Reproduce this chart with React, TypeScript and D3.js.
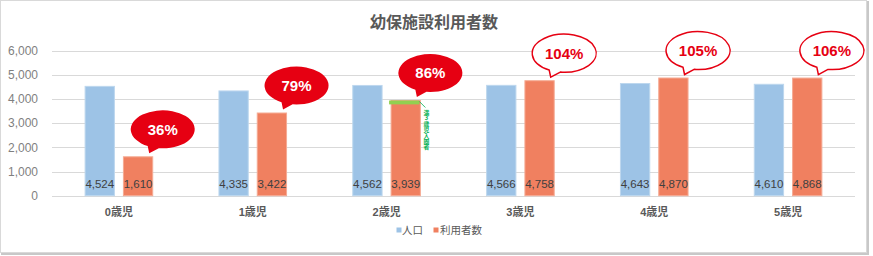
import React from "react";
import * as d3 from "d3";

const categories = ["0歳児", "1歳児", "2歳児", "3歳児", "4歳児", "5歳児"];
const population = [4524, 4335, 4562, 4566, 4643, 4610];
const users = [1610, 3422, 3939, 4758, 4870, 4868];
const seriesNames = ["人口", "利用者数"];
const yTicks = [0, 1000, 2000, 3000, 4000, 5000, 6000];
const title = "幼保施設利用者数";
const age3Entrants = 160; // 満3歳児入園者 (part of 2歳児 users)
const age3Label = "満3歳児入園者";
const age3Index = 2;

const W = 873;
const H = 256;
const LATIN = "'Liberation Sans', 'Noto Sans CJK JP', sans-serif";
const CJK = "'Noto Sans CJK JP', 'Liberation Sans', sans-serif";
const BLUE = "#9DC3E6";
const BLUE_STROKE = "#BDD7EE";
const ORANGE = "#F08060";
const ORANGE_STROKE = "#F5AB94";
const RED = "#E60012";

export default function App() {
  const x0 = d3.scaleBand<string>().domain(categories).range([52, 855]).paddingInner(0).paddingOuter(0);
  const bw = x0.bandwidth();
  const barW = 29.3;
  const gap = 9;
  const L = 2 * barW + gap;
  const x1 = d3
    .scaleBand<string>()
    .domain(seriesNames)
    .range([bw / 2 - L / 2, bw / 2 + L / 2])
    .paddingInner(gap / (barW + gap))
    .paddingOuter(0);
  const y = d3.scaleLinear().domain([0, 6000]).range([195.7, 50.7]);
  const fmt = d3.format(",");

  const rx = 32;
  const ry = 19;
  const bubblePath = (cx: number, cy: number, tx: number, ty: number) => {
    const a1 = (118 * Math.PI) / 180;
    const a2 = (97 * Math.PI) / 180;
    const p1 = [cx + rx * Math.cos(a1), cy + ry * Math.sin(a1)];
    const p2 = [cx + rx * Math.cos(a2), cy + ry * Math.sin(a2)];
    return `M${p2[0]},${p2[1]} L${tx},${ty} L${p1[0]},${p1[1]} A${rx},${ry} 0 1 1 ${p2[0]},${p2[1]} Z`;
  };

  return (
    <svg
      width={W}
      height={H}
      style={{ position: "absolute", left: 0, top: 0, background: "#fff" }}
    >
      <rect x={0.5} y={0.5} width={866} height={252} fill="#fff" stroke="#D9D9D9" />
      <rect x={867} y={1} width={2} height={254} fill="#C8C8C8" />
      <rect x={1} y={253} width={868} height={2} fill="#C8C8C8" />

      <text
        x={434}
        y={27.5}
        textAnchor="middle"
        fontFamily={CJK}
        fontWeight={700}
        fontSize={16}
        fill="#595959"
      >
        {title}
      </text>

      {yTicks.map((t) => (
        <g key={t}>
          <line x1={52} x2={855} y1={Math.round(y(t)) + 0.5} y2={Math.round(y(t)) + 0.5} stroke="#D9D9D9" />
          <text
            x={38}
            y={y(t)}
            dy="0.35em"
            textAnchor="end"
            fontFamily={LATIN}
            fontSize={12}
            fill="#7F7F7F"
          >
            {fmt(t)}
          </text>
        </g>
      ))}

      {categories.map((c, i) => {
        const base = x0(c)!;
        const vals = [population[i], users[i]];
        return (
          <g key={c}>
            {vals.map((v, j) => {
              const bx = base + x1(seriesNames[j])!;
              return (
                <g key={j}>
                  <rect
                    x={bx}
                    y={y(v)}
                    width={x1.bandwidth()}
                    height={y(0) - y(v)}
                    fill={j === 0 ? BLUE : ORANGE}
                    stroke={j === 0 ? BLUE_STROKE : ORANGE_STROKE}
                    strokeWidth={1}
                  />
                  <text
                    x={bx + x1.bandwidth() / 2}
                    y={187.5}
                    textAnchor="middle"
                    fontFamily={LATIN}
                    fontSize={11.5}
                    fill="#404040"
                  >
                    {fmt(v)}
                  </text>
                </g>
              );
            })}
            <text
              x={base + bw / 2}
              y={216}
              textAnchor="middle"
              fontFamily={LATIN}
              fontWeight={700}
              fontSize={11}
              fill="#595959"
            >
              {c}
            </text>
          </g>
        );
      })}

      {(() => {
        const c = categories[age3Index];
        const bx = x0(c)! + x1(seriesNames[1])!;
        const top = y(users[age3Index]);
        const bot = y(users[age3Index] - age3Entrants);
        const right = bx + x1.bandwidth();
        return (
          <g>
            <rect x={bx - 2} y={top} width={x1.bandwidth() + 1} height={bot - top} fill="#92D050" />
            <line x1={right - 1} y1={top + 1} x2={right + 5} y2={top + 7} stroke="#00B050" strokeWidth={0.8} />
            <text
              x={right + 6}
              y={top + 9}
              fontFamily={CJK}
              fontWeight={700}
              fontSize={5.8}
              fill="#00B050"
              style={{ writingMode: "vertical-rl", textOrientation: "upright" } as any}
            >
              {age3Label}
            </text>
          </g>
        );
      })()}

      {categories.map((c, i) => {
        const bx = x0(c)! + x1(seriesNames[1])!;
        const right = bx + x1.bandwidth();
        const tx = right - 3.5;
        const ty = y(users[i]) - 3.5;
        const cx = tx + 13.5;
        const cy = ty - 24;
        const pct = Math.round((users[i] / population[i]) * 100);
        const over = pct >= 100;
        return (
          <g key={"b" + c}>
            <path
              d={bubblePath(cx, cy, tx, ty)}
              fill={over ? "#fff" : RED}
              stroke={RED}
              strokeWidth={over ? 1.5 : 0}
            />
            <text
              x={cx}
              y={cy}
              dy="0.36em"
              textAnchor="middle"
              fontFamily={LATIN}
              fontWeight={700}
              fontSize={15}
              fill={over ? RED : "#fff"}
            >
              {pct}%
            </text>
          </g>
        );
      })}

      <g>
        <rect x={396.5} y={227.5} width={5} height={5} fill={BLUE} />
        <text x={402} y={234} fontFamily={CJK} fontSize={10.5} fill="#595959">
          {seriesNames[0]}
        </text>
        <rect x={433.5} y={227.5} width={5} height={5} fill={ORANGE} />
        <text x={440} y={234} fontFamily={CJK} fontSize={10.5} fill="#595959">
          {seriesNames[1]}
        </text>
      </g>
    </svg>
  );
}
